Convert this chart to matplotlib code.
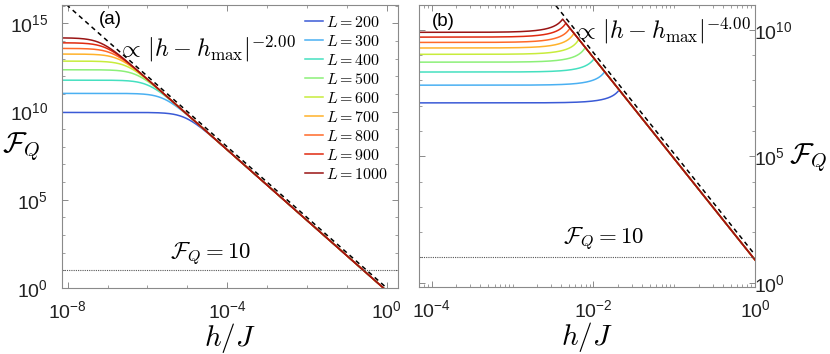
import numpy as np
import matplotlib
matplotlib.use("Agg")
import matplotlib.pyplot as plt
from matplotlib.font_manager import FontProperties
from matplotlib.ticker import LogLocator, FuncFormatter, NullFormatter

plt.rcParams['font.family'] = ['Liberation Sans', 'DejaVu Sans']
plt.rcParams['mathtext.fontset'] = 'custom'
plt.rcParams['mathtext.rm'] = 'Liberation Sans'
plt.rcParams['mathtext.it'] = 'Liberation Sans:italic'

# ---------------- data ----------------
L_values = [200, 300, 400, 500, 600, 700, 800, 900, 1000]
colors = ['#3a5ad6', '#4ab0f2', '#45e0c0', '#8cf078', '#c8ec3c',
          '#ffb22a', '#ff6a28', '#e02a10', '#9a1414']

# panel (a): plateau values log10(F_Q) and power law exponent -2
plateau_a_log = [9.95, 11.03, 11.78, 12.37, 12.86, 13.26, 13.58, 13.90, 14.18]
amp_a_solid = 0.68
amp_a_fit = 1.0
exp_a = -2.0

# panel (b): plateau values, peak positions (log10) and power law exponent -4
plateau_b_log = [7.11, 7.81, 8.33, 8.72, 9.03, 9.28, 9.50, 9.71, 9.90]
hmax_b_log = [-1.68, -1.86, -1.99, -2.10, -2.18, -2.24, -2.29, -2.34, -2.38]
amp_b_solid = 8.0
amp_b_fit = 12.6
exp_b = -4.0

threshold = 10.0

# ---------------- figure ----------------
fig = plt.figure(figsize=(8.30, 3.54), dpi=100)
axA = fig.add_axes([62/830, 1-288/354, 336/830, 283/354])
axB = fig.add_axes([419.3/830, 1-287/354, 335.7/830, 282/354])

cm = dict(math_fontfamily='cm')
tick_fs = 14

def sci(v, pos):
    e = int(round(np.log10(v)))
    return r'$\mathregular{10^{%d}}$' % e

def style(ax, xmajor, ymajor, xsubs, ysubs):
    ax.set_xscale('log'); ax.set_yscale('log')
    ax.xaxis.set_major_locator(plt.FixedLocator(xmajor))
    ax.yaxis.set_major_locator(plt.FixedLocator(ymajor))
    ax.xaxis.set_minor_locator(LogLocator(base=10, subs=xsubs, numticks=100))
    ax.yaxis.set_minor_locator(LogLocator(base=10, subs=ysubs, numticks=100))
    ax.xaxis.set_major_formatter(FuncFormatter(sci))
    ax.yaxis.set_major_formatter(FuncFormatter(sci))
    ax.xaxis.set_minor_formatter(NullFormatter())
    ax.yaxis.set_minor_formatter(NullFormatter())
    ax.tick_params(which='both', direction='in', top=True, right=True,
                   color='#777777', labelsize=tick_fs, labelcolor='#222222')
    ax.tick_params(which='major', length=4, width=0.6)
    ax.tick_params(which='minor', length=2.5, width=0.5)
    ax.tick_params(axis='x', which='major', pad=9)
    for s in ax.spines.values():
        s.set_color('#8a8a8a'); s.set_linewidth(0.8)

# ----- panel (a)
hA = np.logspace(-8.2, 0.35, 800)
for L, pl, c in zip(L_values, plateau_a_log, colors):
    P = 10.0 ** pl
    F = 1.0 / (1.0 / P + hA ** (-exp_a) / amp_a_solid)
    axA.plot(hA, F, color=c, lw=1.1, label=r'$L = %d$' % L)
axA.plot(hA, amp_a_fit * hA ** exp_a, color='black', lw=1.1, ls=(0, (3, 2.5)))
axA.axhline(threshold, color='#555555', lw=0.8, ls=(0, (1, 1)))
axA.set_xlim(10 ** -8.1425, 10 ** 0.2825)
axA.set_ylim(1, 10 ** 16.04)
style(axA, [1e-8, 1e-4, 1e0], [1e0, 1e5, 1e10, 1e15], [1.0], [1.0])
axA.tick_params(axis='y', which='major', pad=10)
axA.set_xlabel(r'$h/J$', fontsize=21, math_fontfamily='cm', labelpad=-1)
axA.set_ylabel(r'$\mathcal{F}_Q$', fontsize=20.5, math_fontfamily='cm', rotation=0,
               ha='center', va='center')
axA.yaxis.set_label_coords(-0.122, 0.5)
axA.text(0.143, 0.947, '(a)', transform=axA.transAxes, fontsize=13.5,
         ha='center', va='center')
axA.text(0.165, 0.845, r'$\propto\,|h-h_{\max}|^{-2.00}$', transform=axA.transAxes,
         fontsize=17.5, ha='left', va='center', **cm)
axA.text(0.443, 0.117, r'$\mathcal{F}_Q = 10$', transform=axA.transAxes,
         fontsize=16.5, ha='center', va='center', **cm)
leg = axA.legend(loc='upper right', bbox_to_anchor=(1.0, 1.0), frameon=False,
                 prop=FontProperties(size=11.5, math_fontfamily='cm'),
                 handlelength=1.15, handletextpad=0.2, labelspacing=0.25,
                 borderaxespad=0.25, borderpad=0.35)

# ----- panel (b)
hB = np.logspace(-4.2, 0.05, 1500)
for L, pl, hm, c in zip(L_values, plateau_b_log, hmax_b_log, colors):
    P = 10.0 ** pl
    hmax = 10.0 ** hm
    peak = amp_b_solid * hmax ** exp_b
    R = peak / P
    cc = 1.0 - 1.0 / R
    x = hB / hmax
    F = np.where(hB < hmax, P / (1.0 - cc * np.minimum(x, 1.0) ** 2),
                 amp_b_solid * hB ** exp_b)
    axB.plot(hB, F, color=c, lw=1.1)
axB.plot(hB, amp_b_fit * hB ** exp_b, color='black', lw=1.1, ls=(0, (3, 2.5)))
axB.axhline(threshold, color='#555555', lw=0.8, ls=(0, (1, 1)))
axB.set_xlim(10 ** -4.153, 1.0)
axB.set_ylim(10 ** -0.17, 10 ** 10.98)
style(axB, [1e-4, 1e-2, 1e0], [1e0, 1e5, 1e10], np.arange(1, 10), [1.0])
axB.yaxis.tick_right()
axB.tick_params(which='both', left=True, right=True, labelleft=False, labelright=True)
axB.tick_params(axis='y', which='major', pad=-1)
axB.set_xlabel(r'$h/J$', fontsize=21, math_fontfamily='cm', labelpad=-1)
axB.yaxis.set_label_position('right')
axB.set_ylabel(r'$\mathcal{F}_Q$', fontsize=20.5, math_fontfamily='cm', rotation=0,
               ha='center', va='center')
axB.yaxis.set_label_coords(1.16, 0.46)
axB.text(0.0715, 0.94, '(b)', transform=axB.transAxes, fontsize=13.5,
         ha='center', va='center')
axB.text(0.455, 0.91, r'$\propto\,|h-h_{\max}|^{-4.00}$', transform=axB.transAxes,
         fontsize=17.5, ha='left', va='center', **cm)
axB.text(0.548, 0.167, r'$\mathcal{F}_Q = 10$', transform=axB.transAxes,
         fontsize=16.5, ha='center', va='center', **cm)

fig.savefig('out.png', dpi=100)
